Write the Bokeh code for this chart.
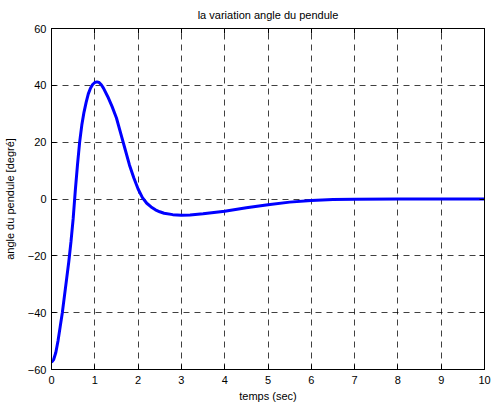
from bokeh.plotting import figure
from bokeh.models import Range1d, LinearAxis, FixedTicker
from bokeh.embed import file_html
from bokeh.resources import INLINE

# Pendulum angle response (degrees) over time (seconds)
temps = [0.0, 0.05, 0.1, 0.15, 0.2, 0.25, 0.3, 0.35, 0.4, 0.45, 0.5, 0.55,
         0.6, 0.65, 0.7, 0.75, 0.8, 0.85, 0.9, 0.95, 1.0, 1.05, 1.1, 1.15,
         1.2, 1.3, 1.4, 1.5, 1.6, 1.7, 1.8, 1.9, 2.0, 2.1, 2.2, 2.3, 2.4,
         2.5, 2.6, 2.8, 3.0, 3.2, 3.5, 4.0, 4.5, 5.0, 5.5, 6.0, 6.5, 7.0,
         8.0, 9.0, 10.0]
angle = [-57.5, -56.5, -54.0, -50.0, -45.0, -40.0, -34.0, -28.0, -22.0, -15.0,
         -7.0, 3.0, 12.0, 20.0, 26.0, 30.5, 34.0, 37.0, 39.0, 40.3, 41.0, 41.2,
         41.0, 40.2, 39.0, 36.0, 32.5, 28.5, 23.0, 17.5, 12.0, 7.5, 3.5, 0.5,
         -1.5, -2.8, -3.8, -4.5, -5.0, -5.5, -5.7, -5.6, -5.2, -4.3, -3.1, -2.0,
         -1.1, -0.5, -0.2, -0.1, 0.0, 0.0, 0.0]

x_ticks = [0, 1, 2, 3, 4, 5, 6, 7, 8, 9, 10]
y_ticks = [-60, -40, -20, 0, 20, 40, 60]

FONT = "Liberation Sans"
FS = "11px"

p = figure(width=491, height=406, output_backend="svg", toolbar_location=None,
           x_range=Range1d(0, 10), y_range=Range1d(-60, 60),
           title="la variation angle du pendule",
           min_border_left=51, min_border_right=7,
           min_border_top=28, min_border_bottom=37)

p.background_fill_color = "white"
p.border_fill_color = "white"
p.outline_line_color = "black"
p.outline_line_width = 1

p.title.align = "center"
p.title.text_font = FONT
p.title.text_font_size = FS
p.title.text_font_style = "normal"
p.title.text_color = "black"
p.title.standoff = 3

for ax, ticks in ((p.xaxis[0], x_ticks), (p.yaxis[0], y_ticks)):
    ax.ticker = FixedTicker(ticks=ticks)
    ax.major_tick_in = 5
    ax.major_tick_out = 0
    ax.minor_tick_line_color = None
    ax.axis_line_color = "black"
    ax.major_tick_line_color = "black"
    ax.major_label_text_font = FONT
    ax.major_label_text_font_size = FS
    ax.major_label_text_color = "black"
    ax.axis_label_text_font = FONT
    ax.axis_label_text_font_size = FS
    ax.axis_label_text_font_style = "normal"
    ax.axis_label_text_color = "black"

p.xaxis.axis_label = "temps (sec)"
p.yaxis.axis_label = "angle du pendule [degré]"
p.xaxis.major_label_standoff = 6
p.xaxis.axis_label_standoff = 3
p.yaxis.major_label_standoff = 5
p.yaxis.axis_label_standoff = 9

# Tick marks on the top and right edges of the box (no labels there)
top = LinearAxis(ticker=FixedTicker(ticks=x_ticks), major_tick_in=5, major_tick_out=0,
                 minor_tick_line_color=None, major_label_text_color=None,
                 major_label_text_font_size="1px",
                 major_label_standoff=0, axis_line_color="black")
right = LinearAxis(ticker=FixedTicker(ticks=y_ticks), major_tick_in=5, major_tick_out=0,
                   minor_tick_line_color=None, major_label_text_color=None,
                   major_label_text_font_size="1px",
                   major_label_standoff=0, axis_line_color="black")
p.add_layout(top, "above")
p.add_layout(right, "right")

# Invisible spacer between the box and the title
spacer = LinearAxis(ticker=FixedTicker(ticks=x_ticks), major_tick_in=0, major_tick_out=6,
                    minor_tick_line_color=None, major_tick_line_color=None,
                    axis_line_color=None, major_label_text_color=None,
                    major_label_text_font_size="1px", major_label_standoff=0)
p.add_layout(spacer, "above")

for g, ticks in ((p.xgrid[0], x_ticks), (p.ygrid[0], y_ticks)):
    g.ticker = FixedTicker(ticks=ticks)
    g.grid_line_color = "black"
    g.grid_line_alpha = 0.75
    g.grid_line_dash = "6 5"
    g.grid_line_width = 1

p.line(temps, angle, line_color="#0000ff", line_width=3)

open("out.html", "w").write(file_html(p, INLINE))
